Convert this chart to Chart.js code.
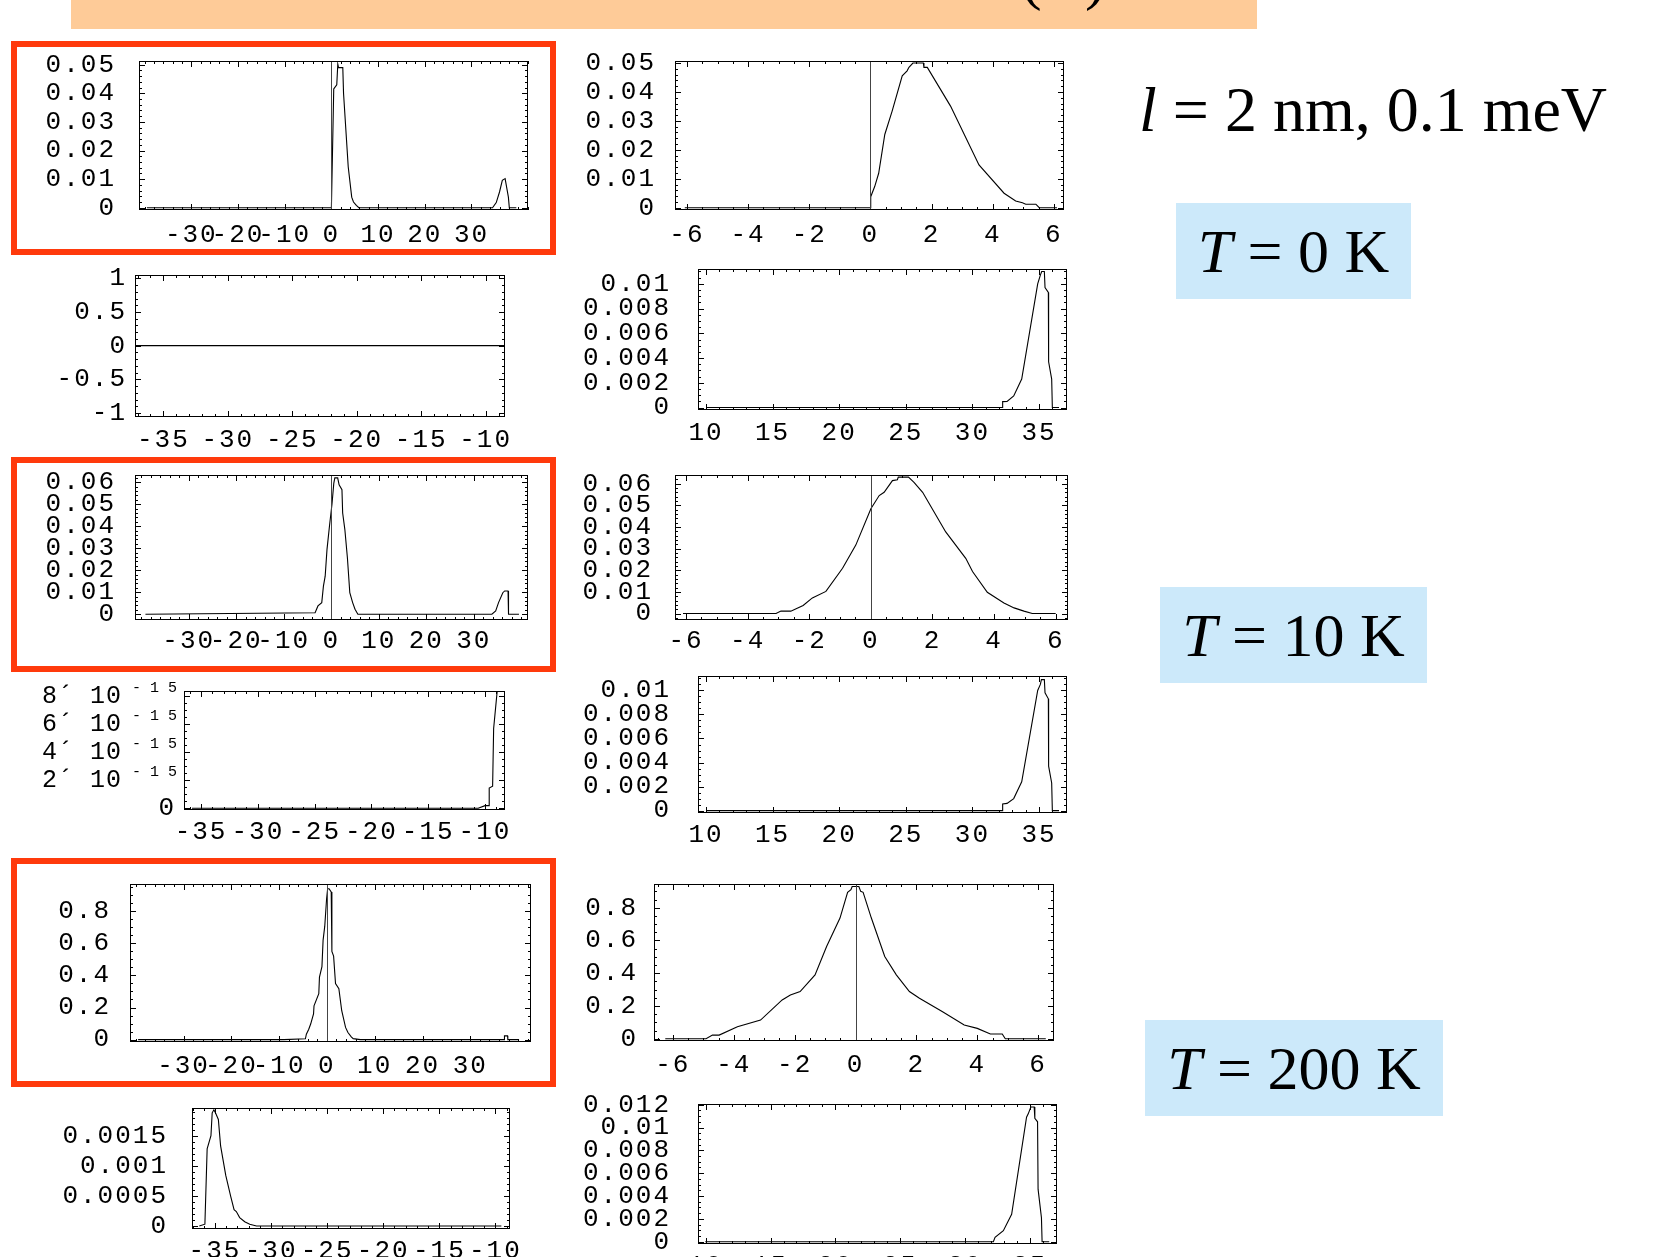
<!DOCTYPE html>
<html>
<head>
<meta charset="utf-8">
<script src="https://cdn.jsdelivr.net/npm/chart.js@4.4.0/dist/chart.umd.min.js"></script>
<style>
  html, body { margin: 0; padding: 0; background: #fff; }
  body { width: 1654px; height: 1257px; position: relative; overflow: hidden; }
  canvas { position: absolute; }
  .bar { position: absolute; left: 71px; top: 0; width: 1186px; height: 29px; background: #fecb98; overflow: hidden; }
  .redbox { position: absolute; left: 11px; width: 545px; border: 6px solid #ff3a0c; box-sizing: border-box; }
  .serif { position: absolute; font-family: 'Liberation Serif', 'Times New Roman', serif; font-size: 62px; color: #000; white-space: nowrap; }
  .tag { background: #cce9fa; height: 96px; box-sizing: border-box; padding-top: 4px; line-height: 88px; text-align: center; }
</style>
</head>
<body>
<div class="bar"><div class="serif" style="left:950px;top:-54px;line-height:62px">(&ensp;&thinsp;)</div></div>
<div class="redbox" style="top:41px;height:214px"></div>
<div class="redbox" style="top:457px;height:215px"></div>
<div class="redbox" style="top:858px;height:229px"></div>
<div class="serif" style="left:1139px;top:79px;line-height:62px;font-size:64px"><i>l</i> = 2 nm, 0.1 meV</div>
<div class="serif tag" style="left:1176px;top:203px;width:235px"><i>T</i> = 0 K</div>
<div class="serif tag" style="left:1160px;top:587px;width:267px"><i>T</i> = 10 K</div>
<div class="serif tag" style="left:1145px;top:1020px;width:298px"><i>T</i> = 200 K</div>
<script>
// tick values
const xTicksWide = [-30, -20, -10, 0, 10, 20, 30];
const xTicksE = [-6, -4, -2, 0, 2, 4, 6];
const xTicksNeg = [-35, -30, -25, -20, -15, -10];
const xTicksPos = [10, 15, 20, 25, 30, 35];
const yTicks05 = [0, 0.01, 0.02, 0.03, 0.04, 0.05];
const yTicks06 = [0, 0.01, 0.02, 0.03, 0.04, 0.05, 0.06];
const yTicksUnit = [-1, -0.5, 0, 0.5, 1];
const yTicks01 = [0, 0.002, 0.004, 0.006, 0.008, 0.01];
const yTicks012 = [0, 0.002, 0.004, 0.006, 0.008, 0.01, 0.012];
const yTicksTiny = [0, 2e-15, 4e-15, 6e-15, 8e-15];
const yTicks08 = [0, 0.2, 0.4, 0.6, 0.8];
const yTicks0015 = [0, 0.0005, 0.001, 0.0015];

// T = 0 K
const c1X = [-39.5, 0, 0.5, 0.7, 1.15, 1.37, 1.53, 2.44, 2.6, 3.6, 4.35, 4.73, 5.34, 5.88, 34.5, 35.3, 36, 36.6, 37.2, 37.9, 38.1, 39.6];
const c1Y = [0, 0, 0.0415, 0.042, 0.043, 0.0502, 0.049, 0.049, 0.04, 0.0143, 0.0037, 0.002, 0.0008, 0, 0, 0.0018, 0.0055, 0.0096, 0.0102, 0.0037, 0, 0];
const c2X = [-6.07, 0, 0.01, 0.14, 0.27, 0.47, 0.71, 1.04, 1.2, 1.26, 1.39, 1.73, 1.75, 1.86, 2.62, 3.55, 4.37, 4.75, 4.97, 5.08, 5.41, 5.52, 6.1];
const c2Y = [0, 0, 0.0038, 0.0073, 0.0119, 0.0253, 0.0334, 0.0456, 0.0473, 0.0485, 0.05, 0.05, 0.0485, 0.0485, 0.0351, 0.0148, 0.005, 0.0023, 0.0017, 0.0012, 0.0012, 0, 0];
const c3X = [-37.2, -8.5];
const c3Y = [0, 0];
const c4X = [10, 32.26, 32.27, 32.6, 33.1, 33.7, 34.9, 35.1, 35.2, 35.4, 35.45, 35.7, 35.72, 35.95, 36.0, 36.5];
const c4Y = [0, 0, 0.00048, 0.0005, 0.00093, 0.0023, 0.01, 0.0107, 0.011, 0.011, 0.0097, 0.0093, 0.0037, 0.0023, 0, 0];

// T = 10 K
const c5X = [-39.1, -3.4, -2.8, -2.0, -1.65, -1.28, -0.9, -0.38, 0.15, 0.53, 0.75, 1.35, 1.65, 2.25, 2.4, 2.86, 3.4, 3.9, 4.5, 5.0, 5.6, 33.8, 34.6, 35.2, 36.1, 36.5, 37.2, 37.3, 39.5];
const c5Y = [0, 0.0007, 0.0038, 0.0053, 0.0128, 0.0173, 0.0294, 0.04, 0.05, 0.0595, 0.062, 0.062, 0.0588, 0.0566, 0.046, 0.0385, 0.0256, 0.0098, 0.0053, 0.0023, 0, 0, 0.0015, 0.0053, 0.0098, 0.0106, 0.0106, 0, 0];
const c6X = [-6.1, -3.08, -2.92, -2.6, -2.2, -1.9, -1.46, -0.92, -0.49, 0, 0.27, 0.43, 0.7, 0.86, 0.89, 1.22, 1.4, 1.68, 2.43, 3.08, 3.3, 3.78, 4.32, 4.65, 4.97, 5.24, 6.0];
const c6Y = [0, 0, 0.0011, 0.0011, 0.0037, 0.0072, 0.0102, 0.0209, 0.0316, 0.0484, 0.0545, 0.056, 0.0614, 0.0618, 0.063, 0.063, 0.0606, 0.056, 0.0377, 0.0255, 0.0194, 0.0098, 0.0049, 0.0026, 0.0011, 0, 0];
const c7X = [-35.8, -10.6, -10.0, -9.64, -9.63, -9.33, -9.24, -8.9];
const c7Y = [0, 0, 0.19e-15, 0.19e-15, 1.45e-15, 1.58e-15, 5.7e-15, 8.6e-15];
const c8X = [10, 32.26, 32.27, 32.6, 33.1, 33.7, 34.9, 35.1, 35.18, 35.4, 35.45, 35.7, 35.72, 35.95, 36.0, 36.5];
const c8Y = [0, 0, 0.00055, 0.0006, 0.001, 0.0024, 0.01, 0.0105, 0.0109, 0.0109, 0.0098, 0.0093, 0.0037, 0.0023, 0, 0];

// T = 200 K
const c9X = [-39.5, -9, -4.5, -4.3, -3.8, -3.4, -2.8, -2.7, -1.7, -1.56, -1.04, -0.8, -0.45, -0.07, 0.15, 0.45, 0.9, 1.04, 1.4, 1.8, 2.5, 3.1, 3.9, 4.4, 5.1, 5.5, 7.0, 37.1, 37.15, 37.8, 37.85, 40.2];
const c9Y = [0, 0, 0.005, 0.034, 0.065, 0.097, 0.16, 0.21, 0.286, 0.39, 0.455, 0.62, 0.707, 0.876, 0.94, 0.94, 0.92, 0.55, 0.52, 0.35, 0.318, 0.18, 0.076, 0.044, 0.017, 0.006, 0, 0, 0.023, 0.023, 0, 0];
const c10X = [-6.25, -4.91, -4.7, -4.48, -3.88, -3.12, -2.41, -2.14, -1.82, -1.33, -0.95, -0.51, -0.26, -0.15, -0.11, 0.11, 0.17, 0.25, 0.52, 0.96, 1.34, 1.77, 2.1, 2.86, 3.57, 4.0, 4.43, 4.82, 4.92, 6.25];
const c10Y = [0, 0, 0.022, 0.022, 0.073, 0.114, 0.237, 0.267, 0.288, 0.39, 0.563, 0.737, 0.894, 0.91, 0.93, 0.93, 0.9, 0.894, 0.737, 0.502, 0.39, 0.288, 0.247, 0.165, 0.084, 0.063, 0.029, 0.029, 0, 0];
const c11X = [-36.4, -35.9, -35.7, -35.36, -35.25, -35.1, -34.96, -34.7, -34.5, -34.04, -33.6, -33.3, -33.1, -32.8, -32.35, -31.9, -31.3, -9.47];
const c11Y = [0, 0.00003, 0.00128, 0.0015, 0.00188, 0.00193, 0.00188, 0.00177, 0.00133, 0.00084, 0.00049, 0.00027, 0.00024, 0.00014, 0.00007, 0.00003, 0, 0];
const c12X = [9.96, 32.19, 32.32, 32.96, 33.6, 34.75, 34.88, 35.08, 35.34, 35.39, 35.6, 35.64, 35.9, 35.95, 36.5];
const c12Y = [0, 0, 0.00038, 0.00096, 0.0024, 0.0109, 0.0112, 0.0118, 0.0118, 0.0108, 0.0105, 0.0046, 0.0021, 0, 0];

const mono = "'Liberation Mono', 'Courier New', monospace";
Chart.defaults.color = '#000';

// frame with inward ticks on all four sides, like the Mathematica plots
const framePlugin = {
  id: 'frame',
  beforeDraw(chart) {
    chart.ctx.letterSpacing = '2px';   // wide Courier-like tick labels
  },
  afterDatasetsDraw(chart, args, o) {
    const { ctx, chartArea: a, scales: { x, y } } = chart;
    const seg = (x1, y1, x2, y2) => { ctx.beginPath(); ctx.moveTo(x1, y1); ctx.lineTo(x2, y2); ctx.stroke(); };
    const isMajor = (list, v, step) => list.some(t => Math.abs(t - v) < step / 10);
    ctx.save();
    ctx.strokeStyle = '#000';
    ctx.lineWidth = 1;
    for (let i = Math.ceil(x.min / o.xm); i * o.xm <= x.max; i++) {
      const v = i * o.xm, p = Math.round(x.getPixelForValue(v)) + 0.5;
      const L = isMajor(o.xt, v, o.xm) ? 6 : 3;
      seg(p, a.bottom, p, a.bottom - L);
      seg(p, a.top, p, a.top + L);
    }
    for (let i = Math.ceil(y.min / o.ym); i * o.ym <= y.max; i++) {
      const v = i * o.ym, p = Math.round(y.getPixelForValue(v)) + 0.5;
      const L = isMajor(o.yt, v, o.ym) ? 6 : 3;
      seg(a.left, p, a.left + L, p);
      seg(a.right, p, a.right - L, p);
    }
    if (o.zero) {
      ctx.strokeStyle = '#444';
      const p = Math.round(x.getPixelForValue(0)) + 0.5;
      seg(p, a.top, p, a.bottom);
    }
    ctx.strokeStyle = '#000';
    ctx.strokeRect(Math.round(a.left) + 0.5, Math.round(a.top) + 0.5, Math.round(a.width) - 1, Math.round(a.height) - 1);
    if (o.exp) {
      ctx.fillStyle = '#000';
      ctx.textBaseline = 'middle';
      o.yt.forEach(v => {
        if (!v) return;
        const p = y.getPixelForValue(v);
        ctx.font = '25px ' + mono;
        ctx.letterSpacing = '1px';
        ctx.textAlign = 'right';
        ctx.fillText(Math.round(v / o.exp) + '´ 10', a.left - 62, p);
        ctx.font = '15px ' + mono;
        ctx.letterSpacing = '9px';
        ctx.textAlign = 'left';
        ctx.fillText('-15', a.left - 52, p - 8);
      });
    }
    ctx.restore();
  }
};

// f = plot frame on the page, s = data, ranges and ticks
function plot(f, s) {
  const yw = Math.min(f.x, 150), padT = 60, padR = 40, xh = 60;
  const cv = document.createElement('canvas');
  cv.width = f.w + yw + padR;
  cv.height = f.h + padT + xh;
  cv.style.width = cv.width + 'px';
  cv.style.height = cv.height + 'px';
  cv.style.left = (f.x - yw) + 'px';
  cv.style.top = (f.y - padT) + 'px';
  document.body.appendChild(cv);
  const tickFont = { family: mono, size: 26 };
  new Chart(cv, {
    type: 'line',
    data: {
      datasets: [{
        data: s.xs.map((x, i) => ({ x, y: s.ys[i] })),
        borderColor: '#000',
        borderWidth: 1.1,
        pointRadius: 0,
        tension: 0,
        fill: false
      }]
    },
    options: {
      responsive: false,
      animation: false,
      events: [],
      layout: { padding: { top: padT, right: padR, left: 0, bottom: 0 } },
      plugins: {
        legend: { display: false },
        tooltip: { enabled: false },
        frame: { xt: s.xt, yt: s.yt, xm: s.xm, ym: s.ym, zero: s.zero, exp: s.exp }
      },
      scales: {
        x: {
          type: 'linear', min: s.xr[0], max: s.xr[1],
          grid: { display: false, drawTicks: false },
          border: { display: false },
          afterBuildTicks: sc => { sc.ticks = s.xt.map(v => ({ value: v })); },
          afterFit: sc => { sc.height = xh; },
          ticks: { autoSkip: false, maxRotation: 0, minRotation: 0, padding: s.xp, font: tickFont, callback: v => String(v) }
        },
        y: {
          type: 'linear', min: s.yr[0], max: s.yr[1],
          grid: { display: false, drawTicks: false },
          border: { display: false },
          afterBuildTicks: sc => { sc.ticks = s.yt.map(v => ({ value: v })); },
          afterFit: sc => { sc.width = yw; },
          ticks: { autoSkip: false, padding: s.yp, font: tickFont, callback: s.exp ? (v => v === 0 ? '0' : '') : (v => String(v)) }
        }
      }
    },
    plugins: [framePlugin]
  });
}

plot({ x: 139, y: 61, w: 389, h: 149 }, { xs: c1X, ys: c1Y, xr: [-41.2, 42.1], yr: [-0.0008, 0.0513], xt: xTicksWide, yt: yTicks05, xm: 2, ym: 0.002, xp: 10, yp: 23, zero: true });
plot({ x: 675, y: 61, w: 389, h: 149 }, { xs: c2X, ys: c2Y, xr: [-6.39, 6.33], yr: [-0.0008, 0.0507], xt: xTicksE, yt: yTicks05, xm: 0.5, ym: 0.002, xp: 10, yp: 19, zero: true });
plot({ x: 135, y: 275, w: 370, h: 142 }, { xs: c3X, ys: c3Y, xr: [-37.2, -8.5], yr: [-1.06, 1.05], xt: xTicksNeg, yt: yTicksUnit, xm: 1, ym: 0.1, xp: 8, yp: 8 });
plot({ x: 698, y: 269, w: 369, h: 141 }, { xs: c4X, ys: c4Y, xr: [9.4, 37.1], yr: [-0.0002, 0.0112], xt: xTicksPos, yt: yTicks01, xm: 1, ym: 0.0005, xp: 8, yp: 27 });
plot({ x: 135, y: 475, w: 393, h: 145 }, { xs: c5X, ys: c5Y, xr: [-41.3, 41.4], yr: [-0.0026, 0.0633], xt: xTicksWide, yt: yTicks06, xm: 2, ym: 0.002, xp: 6, yp: 19, zero: true });
plot({ x: 675, y: 475, w: 393, h: 145 }, { xs: c6X, ys: c6Y, xr: [-6.36, 6.4], yr: [-0.003, 0.064], xt: xTicksE, yt: yTicks06, xm: 0.5, ym: 0.002, xp: 6, yp: 22, zero: true });
plot({ x: 184, y: 691, w: 321, h: 119 }, { xs: c7X, ys: c7Y, xr: [-36.5, -8.24], yr: [-0.12e-15, 8.37e-15], xt: xTicksNeg, yt: yTicksTiny, xm: 1, ym: 0.5e-15, xp: 7, yp: 8, exp: 1e-15 });
plot({ x: 698, y: 676, w: 369, h: 137 }, { xs: c8X, ys: c8Y, xr: [9.4, 37.1], yr: [-0.0002, 0.0112], xt: xTicksPos, yt: yTicks01, xm: 1, ym: 0.0005, xp: 7, yp: 27 });
plot({ x: 130, y: 884, w: 401, h: 158 }, { xs: c9X, ys: c9Y, xr: [-41.2, 42.7], yr: [-0.015, 0.97], xt: xTicksWide, yt: yTicks08, xm: 2, ym: 0.05, xp: 9, yp: 19, zero: true });
plot({ x: 654, y: 884, w: 400, h: 157 }, { xs: c10X, ys: c10Y, xr: [-6.62, 6.52], yr: [-0.014, 0.945], xt: xTicksE, yt: yTicks08, xm: 0.5, ym: 0.05, xp: 9, yp: 16, zero: true });
plot({ x: 192, y: 1108, w: 318, h: 121 }, { xs: c11X, ys: c11Y, xr: [-37.05, -8.7], yr: [-0.00005, 0.00196], xt: xTicksNeg, yt: yTicks0015, xm: 1, ym: 0.0001, xp: 7, yp: 24 });
plot({ x: 698, y: 1104, w: 359, h: 140 }, { xs: c12X, ys: c12Y, xr: [9.4, 37.1], yr: [-0.0002, 0.01206], xt: xTicksPos, yt: yTicks012, xm: 1, ym: 0.0005, xp: 7, yp: 27 });
</script>
</body>
</html>
